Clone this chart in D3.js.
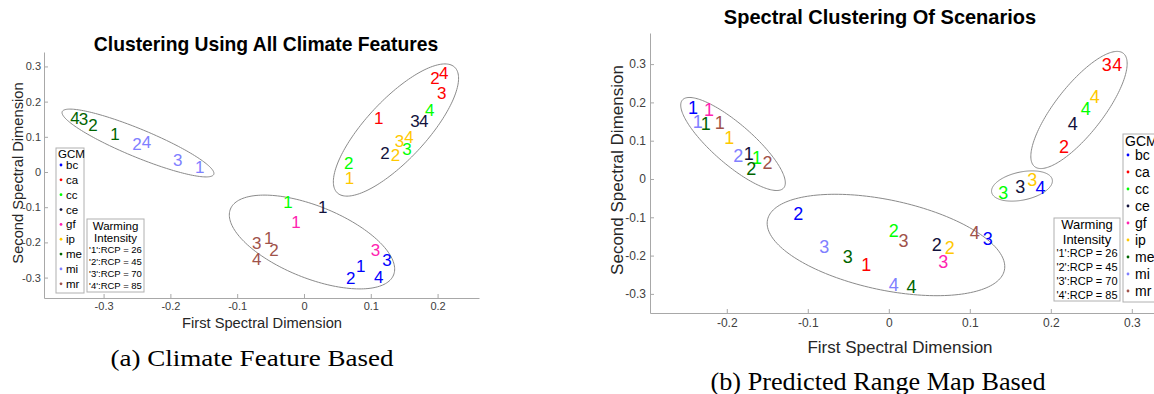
<!DOCTYPE html>
<html><head><meta charset="utf-8">
<script src="https://cdn.jsdelivr.net/npm/d3@7"></script>
<style>body{margin:0;background:#fff} text{font-family:Arial,"Liberation Sans",sans-serif}</style>
</head><body><svg id="c" width="1154" height="394"></svg>
<script>
// ---------- data ----------
const gcmNames = ["bc","ca","cc","ce","gf","ip","me","mi","mr"];
const rcpLegend = ["'1':RCP = 26","'2':RCP = 45","'3':RCP = 70","'4':RCP = 85"];
const titleA = "Clustering Using All Climate Features";
const titleB = "Spectral Clustering Of Scenarios";
const captionA = "(a) Climate Feature Based";
const captionB = "(b) Predicted Range Map Based";
const xTicksA = [-0.3,-0.2,-0.1,0,0.1,0.2];
const yTicksA = [-0.3,-0.2,-0.1,0,0.1,0.2,0.3];
const xTicksB = [-0.2,-0.1,0,0.1,0.2,0.3];
const yTicksB = [-0.3,-0.2,-0.1,0,0.1,0.2,0.3];
// [GCM, warming intensity, first dim, second dim]
const scenariosA = [
  ["me",4,-0.350,0.153],["me",3,-0.337,0.150],["me",2,-0.323,0.134],["me",1,-0.290,0.108],
  ["mi",2,-0.257,0.080],["mi",4,-0.243,0.084],["mi",3,-0.196,0.034],["mi",1,-0.163,0.014],
  ["ca",2,0.189,0.267],["ca",4,0.202,0.281],["ca",3,0.199,0.224],["cc",4,0.181,0.176],
  ["ce",3,0.159,0.145],["ce",4,0.172,0.145],["ca",1,0.105,0.153],["ip",3,0.136,0.088],
  ["ip",4,0.150,0.100],["ce",2,0.114,0.054],["ip",2,0.130,0.048],["cc",3,0.147,0.065],
  ["cc",2,0.060,0.026],["ip",1,0.061,-0.017],
  ["cc",1,-0.031,-0.085],["ce",1,0.021,-0.099],["gf",1,-0.019,-0.142],["mr",3,-0.078,-0.202],
  ["mr",1,-0.060,-0.188],["mr",2,-0.052,-0.222],["mr",4,-0.078,-0.247],["gf",3,0.100,-0.222],
  ["bc",3,0.117,-0.250],["bc",1,0.078,-0.267],["bc",2,0.063,-0.301],["bc",4,0.105,-0.298]
];
const scenariosB = [
  ["bc",1,-0.248,0.185],["mi",1,-0.242,0.149],["gf",1,-0.228,0.180],["me",1,-0.232,0.144],
  ["mr",1,-0.215,0.146],["ip",1,-0.203,0.107],["mi",2,-0.192,0.060],["ce",1,-0.179,0.065],
  ["cc",1,-0.169,0.055],["me",2,-0.176,0.026],["mr",2,-0.156,0.042],
  ["ca",3,0.263,0.298],["ca",4,0.276,0.298],["ip",4,0.248,0.214],["cc",4,0.237,0.183],
  ["ce",4,0.221,0.144],["ca",2,0.210,0.084],
  ["cc",3,0.135,-0.037],["ce",3,0.156,-0.021],["ip",3,0.171,-0.003],["bc",4,0.181,-0.024],
  ["bc",2,-0.118,-0.091],["mi",3,-0.086,-0.178],["me",3,-0.057,-0.204],["ca",1,-0.034,-0.225],
  ["cc",2,0.000,-0.136],["mr",3,0.012,-0.162],["ce",2,0.053,-0.172],["ip",2,0.069,-0.180],
  ["gf",3,0.061,-0.217],["mr",4,0.100,-0.141],["bc",3,0.116,-0.157],["mi",4,0.000,-0.277],
  ["me",4,0.022,-0.282]
];
// cluster ellipses: [centre x, centre y, semi-axis A (x,y), semi-axis B (x,y)] in data units
const clustersA = [
  [-0.2485,0.0824, 0.1134,-0.0891, -0.0080,-0.0367],
  [ 0.1377,0.1193, 0.0878, 0.1786,  0.0328,-0.0582],
  [ 0.0120,-0.1989,0.1221,-0.0937, -0.0202,-0.0948]
];
const clustersB = [
  [-0.1923,0.0914, 0.0625,-0.1149, -0.0162,-0.0394],
  [ 0.2348,0.1802, 0.0547, 0.1480,  0.0233,-0.0386],
  [ 0.1644,-0.0183,0.0374, 0.0167,  0.0036,-0.0358],
  [-0.0035,-0.1723,0.1462,-0.0658, -0.0116,-0.1149]
];

// ---------- styles ----------
const gcmColor = {bc:"#0000ff",ca:"#ff0000",cc:"#00ff00",ce:"#12123c",gf:"#ff22b0",
  ip:"#ffc800",me:"#006400",mi:"#8080ff",mr:"#a0524a"};
const axisColor = "#a8a8a8", tickText = "#404040";
const svg = d3.select("#c");
svg.append("rect").attr("width",1154).attr("height",394).attr("fill","#fff");
const fmt = d => d === 0 ? "0" : String(d);

function panel(cfg){
  const g = svg.append("g");
  const x = d3.scaleLinear().domain(cfg.xDom).range([cfg.left,cfg.right]);
  const y = d3.scaleLinear().domain(cfg.yDom).range([cfg.bottom,cfg.top]);
  const clipId = "clip"+cfg.id;
  svg.append("clipPath").attr("id",clipId).append("rect")
    .attr("x",cfg.left).attr("y",cfg.top).attr("width",cfg.right-cfg.left).attr("height",cfg.bottom-cfg.top);

  const xa = g.append("g").attr("transform",`translate(0,${cfg.bottom})`)
    .call(d3.axisBottom(x).tickValues(cfg.xTicks).tickFormat(fmt).tickSizeInner(-4).tickSizeOuter(0).tickPadding(cfg.xPad));
  const ya = g.append("g").attr("transform",`translate(${cfg.left},0)`)
    .call(d3.axisLeft(y).tickValues(cfg.yTicks).tickFormat(fmt).tickSizeInner(-4).tickSizeOuter(0).tickPadding(cfg.yPad));
  [xa,ya].forEach(a=>{
    a.select(".domain").attr("stroke",axisColor);
    a.selectAll(".tick line").attr("stroke",axisColor);
    a.selectAll(".tick text").attr("fill",tickText).attr("font-size",cfg.tickFs)
      .attr("font-family","Arial, 'Liberation Sans', sans-serif");
  });

  const plot = g.append("g").attr("clip-path",`url(#${clipId})`);
  const line = d3.line().curve(d3.curveLinearClosed);
  cfg.clusters.forEach(e=>{
    const pts = d3.range(0,2*Math.PI,Math.PI/90).map(t=>[
      x(e[0]+Math.cos(t)*e[2]+Math.sin(t)*e[4]),
      y(e[1]+Math.cos(t)*e[3]+Math.sin(t)*e[5])]);
    plot.append("path").attr("d",line(pts)).attr("fill","none").attr("stroke","#8a8a8a").attr("stroke-width",1);
  });
  plot.selectAll("text.pt").data(cfg.data).join("text").attr("class","pt")
    .attr("x",d=>x(d[2])).attr("y",d=>y(d[3])).attr("dy","0.35em")
    .attr("font-size",cfg.ptFs).attr("fill",d=>gcmColor[d[0]]).text(d=>d[1]);

  // titles & labels
  svg.append("text").attr("x",cfg.titleX).attr("y",cfg.titleY).attr("text-anchor","middle")
    .attr("font-weight","bold").attr("font-size",cfg.titleFs).attr("dy","0.35em").text(cfg.title);
  svg.append("text").attr("x",cfg.xlabX).attr("y",cfg.xlabY).attr("text-anchor","middle")
    .attr("font-size",cfg.labFs).attr("fill","#262626").attr("dy","0.35em").text("First Spectral Dimension");
  svg.append("text").attr("transform",`translate(${cfg.ylabX},${cfg.ylabY}) rotate(-90)`).attr("text-anchor","middle")
    .attr("font-size",cfg.labFs).attr("fill","#262626").attr("dy","0.35em").text("Second Spectral Dimension");
  svg.append("text").attr("x",cfg.capX).attr("y",cfg.capY).attr("text-anchor","middle")
    .attr("font-size",cfg.capFs).attr("dy","0.35em").attr("textLength",cfg.capW).attr("lengthAdjust","spacingAndGlyphs")
    .style("font-family","'Liberation Serif','DejaVu Serif',serif").text(cfg.caption);

  // GCM legend
  const L = cfg.gcmBox;
  svg.append("rect").attr("x",L.x).attr("y",L.y).attr("width",L.w).attr("height",L.h)
    .attr("fill","#fff").attr("stroke","#b0b0b0");
  svg.append("text").attr("x",L.x+2).attr("y",L.titleY).attr("dy","0.35em").attr("font-size",L.fs).text("GCM");
  gcmNames.forEach((n,i)=>{
    const yy = L.rowY + i*L.step;
    svg.append("circle").attr("cx",L.x+L.dotDx).attr("cy",yy).attr("r",1.4).attr("fill",gcmColor[n]);
    svg.append("text").attr("x",L.x+L.txtDx).attr("y",yy).attr("dy","0.35em").attr("font-size",L.fs).text(n);
  });
  // warming legend
  const W = cfg.wBox;
  svg.append("rect").attr("x",W.x).attr("y",W.y).attr("width",W.w).attr("height",W.h)
    .attr("fill","#fff").attr("stroke","#b0b0b0");
  ["Warming","Intensity"].forEach((t,i)=>svg.append("text").attr("x",W.x+W.w/2).attr("y",W.t0+i*W.tStep)
    .attr("dy","0.35em").attr("text-anchor","middle").attr("font-size",W.tfs).text(t));
  rcpLegend.forEach((t,i)=>svg.append("text").attr("x",W.x+W.w/2).attr("y",W.r0+i*W.rStep)
    .attr("dy","0.35em").attr("text-anchor","middle").attr("font-size",W.rfs).text(t));
}

panel({id:"A", left:44,right:479,top:52,bottom:298,
  xDom:[-0.3892,0.2620], yDom:[-0.358,0.341], xTicks:xTicksA, yTicks:yTicksA,
  xPad:4, yPad:3, tickFs:11, ptFs:17, data:scenariosA, clusters:clustersA,
  title:titleA, titleX:266, titleY:44, titleFs:19.3,
  xlabX:262, xlabY:323, ylabX:18, ylabY:173, labFs:14.7,
  caption:captionA, capX:252, capY:358, capFs:24, capW:283,
  gcmBox:{x:56,y:148,w:28,h:145,titleY:154,rowY:165,step:14.85,dotDx:5,txtDx:10,fs:11.5},
  wBox:{x:87,y:219,w:57,h:73,t0:226,tStep:12,tfs:11.5,r0:250,rStep:12,rfs:9.5}
});
panel({id:"B", left:650,right:1160,top:33,bottom:313,
  xDom:[-0.2948,0.3348], yDom:[-0.3499,0.3812], xTicks:xTicksB, yTicks:yTicksB,
  xPad:5, yPad:4, tickFs:12, ptFs:18, data:scenariosB, clusters:clustersB,
  title:titleB, titleX:880, titleY:17, titleFs:20,
  xlabX:900, xlabY:347, ylabX:617, ylabY:170, labFs:17,
  caption:captionB, capX:878, capY:381, capFs:25, capW:335,
  gcmBox:{x:1123,y:134,w:40,h:168,titleY:141,rowY:155,step:17,dotDx:5,txtDx:12,fs:14},
  wBox:{x:1054,y:218,w:66,h:83,t0:224,tStep:15,tfs:13,r0:253,rStep:14,rfs:11}
});
</script></body></html>
